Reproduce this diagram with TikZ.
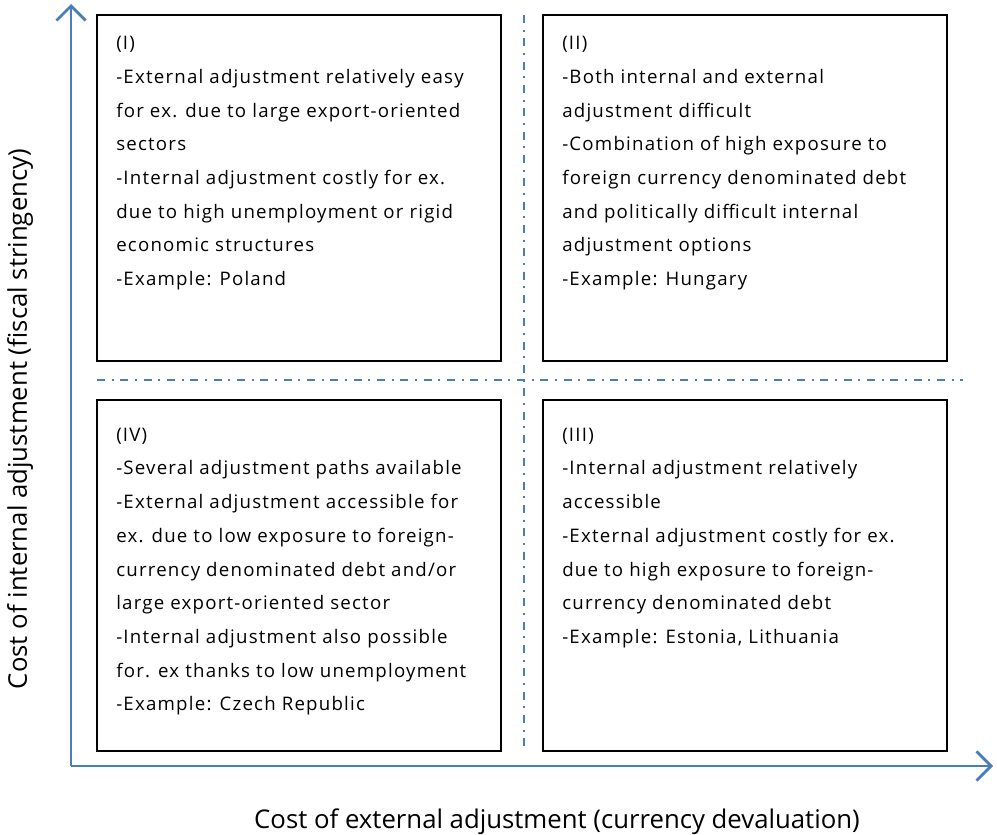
\documentclass[tikz,border=0pt]{standalone}
\usepackage{fontspec}
\setmainfont{Open Sans}
\newfontfamily\bodyfont[LetterSpace=6.5]{Open Sans}
\usetikzlibrary{arrows.meta}
\definecolor{axisblue}{HTML}{4A7EBB}
\tikzset{
  quad/.style={draw=black, line width=1.2pt},
  qtext/.style={anchor=north west, align=left, inner sep=0pt, font=\bodyfont\fontsize{14}{25.3}\selectfont},
  axisline/.style={draw=axisblue, line width=2pt, -{Straight Barb[length=11pt,width=22pt,line width=2pt]}},
  divider/.style={draw=axisblue, line width=1.5pt, dash pattern=on 6pt off 5pt on 1.5pt off 5pt},
  axlabel/.style={font=\fontsize{19.3}{22}\selectfont, inner sep=0pt}
}
\begin{document}
\begin{tikzpicture}[x=0.75pt,y=-0.75pt]
\useasboundingbox (0,0) rectangle (997,835);
% axes
\coordinate (origin) at (71,766);
\coordinate (ytip) at (71,4);
\coordinate (xtip) at (993,766);
\draw[axisline] (origin) -- (ytip);
\draw[axisline] (origin) -- (xtip);
% dividers
\coordinate (hl) at (97,380);
\coordinate (hr) at (963,380);
\coordinate (vt) at (524,15);
\coordinate (vb) at (524,752);
\draw[divider] (hl) -- (hr);
\draw[divider] (vt) -- (vb);
% boxes
\draw[quad] (97,15) rectangle (501,361);
\draw[quad] (543,15) rectangle (947,361);
\draw[quad] (97,400) rectangle (501,751);
\draw[quad] (543,400) rectangle (947,751);
% texts
\node[qtext] (t1) at (116,36) {(I)\\-External adjustment relatively easy\\for ex. due to large export-oriented\\sectors\\-Internal adjustment costly for ex.\\due to high unemployment or rigid\\economic structures\\-Example: Poland};
\node[qtext] (t2) at (562,36) {(II)\\-Both internal and external\\adjustment difficult\\-Combination of high exposure to\\foreign currency denominated debt\\and politically difficult internal\\adjustment options\\-Example: Hungary};
\node[qtext] (t4) at (116,427.5) {(IV)\\-Several adjustment paths available\\-External adjustment accessible for\\ex. due to low exposure to foreign-\\currency denominated debt and/or\\large export-oriented sector\\-Internal adjustment also possible\\for. ex thanks to low unemployment\\-Example: Czech Republic};
\node[qtext] (t3) at (562,427.5) {(III)\\-Internal adjustment relatively\\accessible\\-External adjustment costly for ex.\\due to high exposure to foreign-\\currency denominated debt\\-Example: Estonia, Lithuania};
% axis labels
\node[axlabel, rotate=90] (ylab) at (20,419) {Cost of internal adjustment (fiscal stringency)};
\node[axlabel] (xlab) at (557,822) {Cost of external adjustment (currency devaluation)};
\end{tikzpicture}
\end{document}
